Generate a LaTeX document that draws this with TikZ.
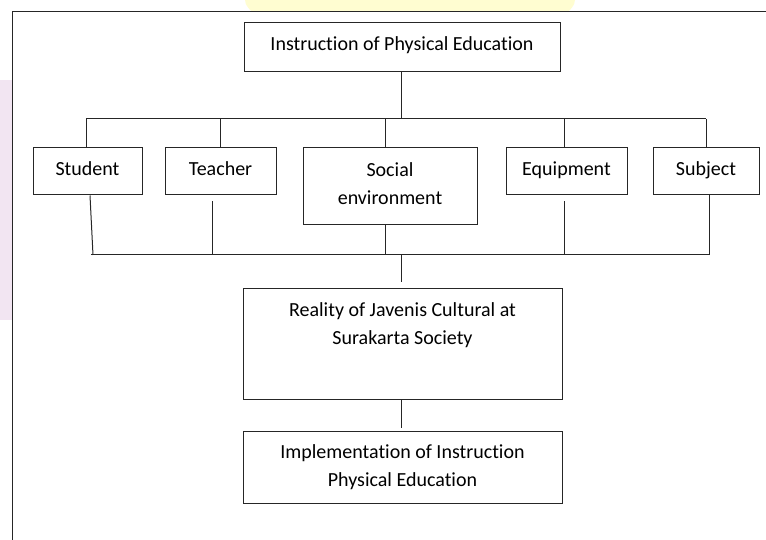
\documentclass[tikz,border=0pt]{standalone}
\usepackage{fontspec}
\setmainfont{Carlito}[Ligatures={NoCommon}]
\usetikzlibrary{positioning}

\begin{document}
\begin{tikzpicture}[
  x=1pt, y=-1pt,
  box/.style={draw=black!85, line width=1pt, inner sep=0pt, align=center,
              font=\fontsize{20}{28}\selectfont},
  one/.style={box, text height=14pt, text depth=5.6pt, minimum height=47pt},
  txt/.style={inner sep=0pt, align=center, font=\fontsize{20}{28}\selectfont},
  link/.style={draw=black!85, line width=1pt}
]
\useasboundingbox (0,0) rectangle (766,540);
% faint watermark
\begin{scope}
  \clip (0,0) rectangle (766,11.5);
  \fill[yellow!18] (410,0) ellipse (165 and 40);
\end{scope}
\fill[violet!10] (0,80) rectangle (11.5,320);
% frame
\draw[link] (12,540) |- (766,12);

\node[box, text height=14pt, text depth=7.5pt, minimum width=316pt,
  minimum height=49pt] (instr) at (402,47.5) {Instruction of Physical Education};

\node[one, minimum width=109pt] (stud) at (87.5,171.5) {Student};
\node[one, minimum width=111pt] (teach) at (220.5,171.5) {Teacher};
\node[box, minimum width=174pt, minimum height=77pt] (soc) at (390,186.5) {};
\node[txt, below=15pt of soc.north] (soctxt) {Social\\environment};
\node[one, minimum width=121pt] (equip) at (566.5,171.5) {Equipment};
\node[one, minimum width=106pt] (subj) at (706,171.5) {Subject};

\node[box, minimum width=319pt, minimum height=111pt] (real) at (402.5,343.5) {};
\node[txt, below=15pt of real.north] (realtxt)
  {Reality of Javenis Cultural at\\Surakarta Society};
\node[box, minimum width=319pt, minimum height=72pt] (impl) at (402.5,467)
  {Implementation of Instruction\\Physical Education};

% upper bus
\coordinate (ub) at (401,119);
\draw[link] (instr.south -| ub) -- (ub);
\draw[link] ([xshift=-1.5pt]stud.north |- ub) -- (subj.north |- ub);
\draw[link] ([xshift=-1.5pt]stud.north) -- ([xshift=-1.5pt]stud.north |- ub);
\draw[link] (teach.north) -- (teach.north |- ub);
\draw[link] ([xshift=-5pt]soc.north) -- ([xshift=-5pt]soc.north |- ub);
\draw[link] ([xshift=-2.5pt]equip.north) -- ([xshift=-2.5pt]equip.north |- ub);
\draw[link] (subj.north) -- (subj.north |- ub);

% lower bus
\coordinate (lb1) at (93,255);
\coordinate (lb2) at (212,255);
\coordinate (lb3) at (385,255);
\coordinate (lb4) at (564,255);
\coordinate (lb5) at (709,255);
\coordinate (lbc) at (401,255);
\draw[link] ([xshift=-2pt]lb1) -- (lb5);
\draw[link] ([xshift=2.5pt]stud.south) -- (lb1);
\draw[link] ([yshift=-6pt]teach.south -| lb2) -- (lb2);
\draw[link] (soc.south -| lb3) -- (lb3);
\draw[link] ([yshift=-6pt]equip.south -| lb4) -- (lb4);
\draw[link] (subj.south -| lb5) -- (lb5);

% down to the lower boxes
\draw[link, shorten >=5pt] (lbc) -- (real.north -| lbc);
\draw[link, shorten >=3pt] (real.south -| lbc) -- (impl.north -| lbc);
\end{tikzpicture}
\end{document}
